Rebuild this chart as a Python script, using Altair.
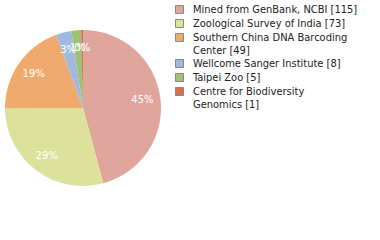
import altair as alt
import pandas as pd

labels = [
    "Mined from GenBank, NCBI [115]",
    "Zoological Survey of India [73]",
    "Southern China DNA Barcoding\nCenter [49]",
    "Wellcome Sanger Institute [8]",
    "Taipei Zoo [5]",
    "Centre for Biodiversity\nGenomics [1]",
]
values = [115, 73, 49, 8, 5, 1]
colors = ["#e0a69e", "#dce29b", "#efab6e", "#a0b9e0", "#9bc373", "#dc6e55"]

df = pd.DataFrame({"label": labels, "value": values, "order": list(range(len(labels)))})

base = alt.Chart(df).transform_joinaggregate(total="sum(value)").transform_calculate(
    pct="floor(datum.value / datum.total * 100) + '%'"
).encode(
    theta=alt.Theta("value:Q", stack=True),
    order=alt.Order("order:Q"),
    x=alt.value(83),
    y=alt.value(108),
)

pie = base.mark_arc(outerRadius=78, stroke=None).encode(
    color=alt.Color(
        "label:N",
        sort=labels,
        scale=alt.Scale(domain=labels, range=colors),
        legend=alt.Legend(
            title=None,
            orient="none",
            legendX=174,
            legendY=4,
            symbolType="square",
            symbolSize=64,
            symbolStrokeColor="#888888",
            symbolStrokeWidth=1,
            labelFont="DejaVu Sans Condensed",
            labelFontSize=11,
            labelColor="#222222",
            labelLimit=300,
            labelExpr="split(datum.label, '\\n')",
            rowPadding=1,
            labelOffset=8,
        ),
    )
)

text = base.mark_text(radius=60, color="white", font="DejaVu Sans", fontSize=10).encode(
    text="pct:N"
)

chart = (pie + text).properties(
    width=380, height=240, autosize=alt.AutoSizeParams(type="none"), padding=0
).configure(
    view=alt.ViewConfig(stroke=None),
    style={"guide-label": {"lineHeight": 13}},
)

chart.save("out.html", embed_options={"renderer": "svg", "actions": False})
